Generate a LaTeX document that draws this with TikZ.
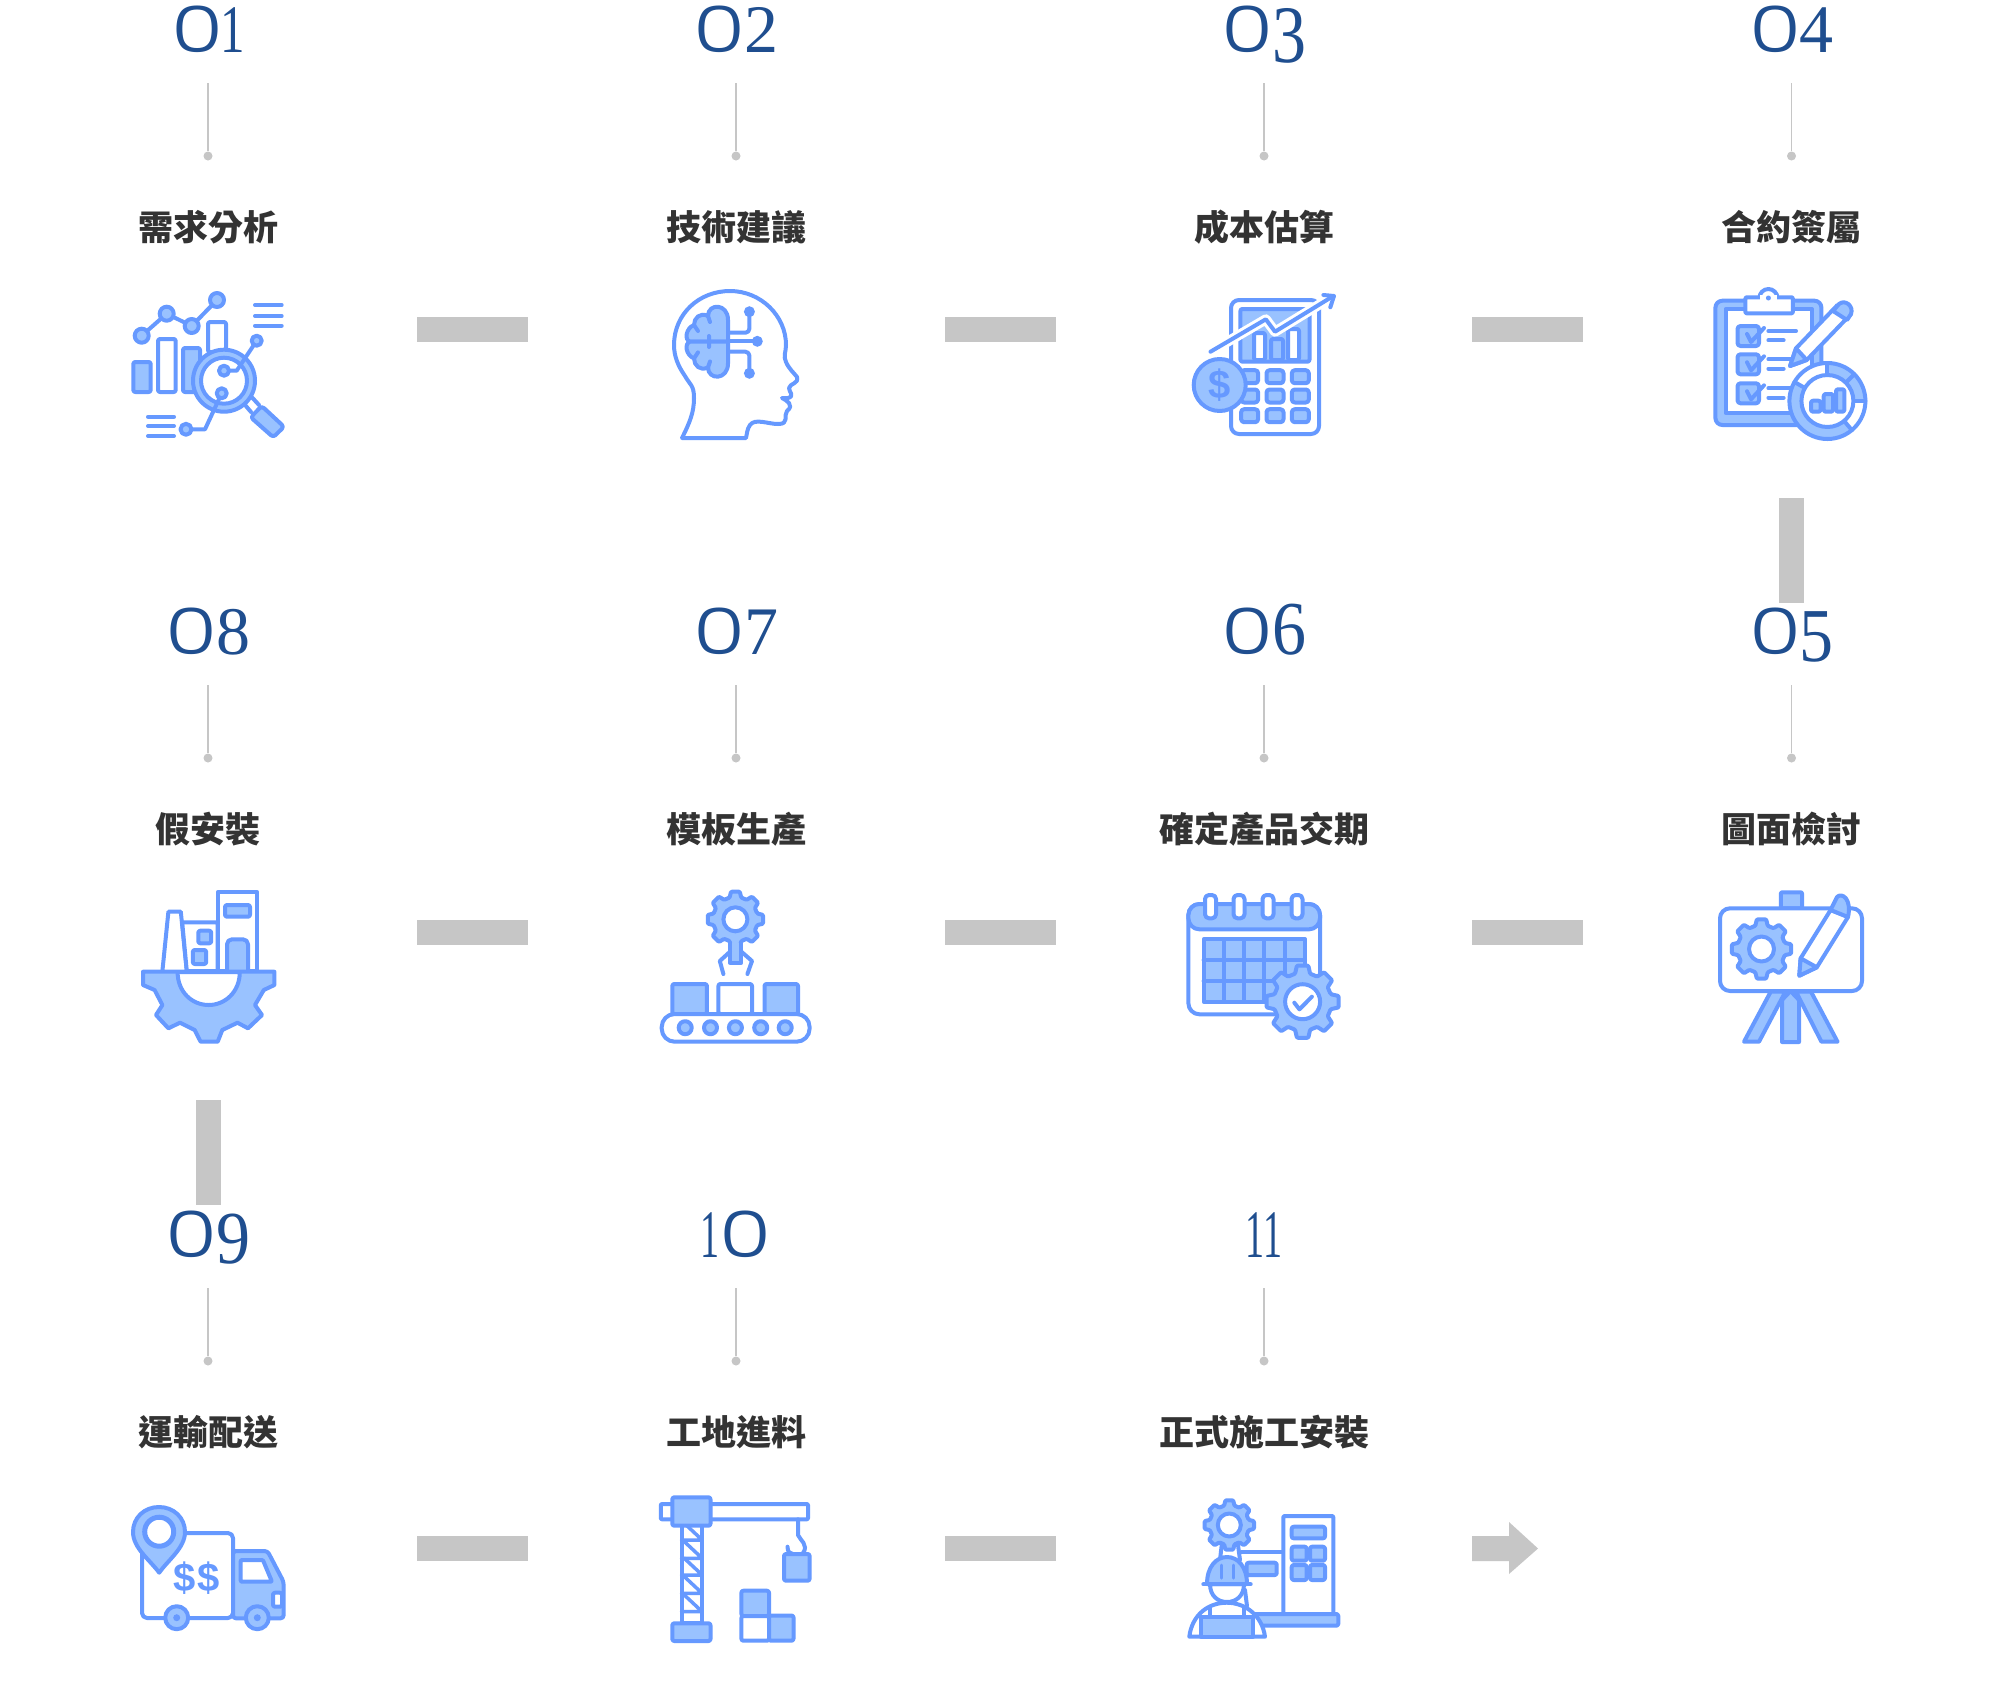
\documentclass[tikz,border=0pt]{standalone}
\usepackage{fontspec}
\usepackage{graphicx}
\newfontfamily\cjk{Noto Sans CJK TC}
\newfontfamily\serifnum{Liberation Serif}
\newfontfamily\zerofont{Poppins Light}
\newfontfamily\iconsans{Liberation Sans}
\definecolor{icb}{HTML}{6699FF}
\definecolor{lb}{HTML}{99C2FF}
\definecolor{gr}{HTML}{C6C6C6}
\definecolor{navy}{HTML}{1F4E8F}
\definecolor{ink}{HTML}{333333}
\newcommand\zz{{\zerofont\fontsize{64}{64}\selectfont\scalebox{1.32}[1]{0}}}
\newcommand\oo{\scalebox{0.72}[1]{1}}
\newcommand\oon{\scalebox{0.56}[1]{1}}
\newcommand\gearic[6]{% x,y,Ro,Ri,hole,holewidth
\begin{scope}[shift={(#1,#2)}]
\draw[ic,fill=lb,rounded corners=1pt] ({-15}:#4)
 \foreach \k in {0,...,7}{ -- ({\k*45-15}:#4) -- ({\k*45-9}:#3) -- ({\k*45+9}:#3) -- ({\k*45+15}:#4) } -- cycle;
\draw[ic,fill=white,line width=#6pt] (0,0) circle[radius=#5];
\end{scope}}
\newcommand\rbox[5]{\draw[ic,fill=#5,rounded corners=2pt] (#1,#2) rectangle (#3,#4);}
\newcommand\stepitem[5]{%
 \node[numtxt] (n#1) at (#2,52+#3) {#4};
 \coordinate (t#1) at (#2,83+#3);
 \node[dotn] (d#1) at (#2,156+#3) {};
 \draw[stemline] (t#1) -- (d#1);
 \node[labeltxt] (l#1) at (#2,227+#3) {#5};
}
\tikzset{
 ic/.style={draw=icb,line width=4pt,line join=round,line cap=round},
 numtxt/.style={anchor=base,inner sep=0pt,text=navy,font=\serifnum\fontsize{68}{68}\selectfont},
 labeltxt/.style={inner sep=0pt,text=ink,font=\cjk\bfseries\fontsize{35}{35}\selectfont},
 dotn/.style={circle,fill=gr,inner sep=0pt,minimum size=9pt},
 stemline/.style={draw=gr,line width=1.6pt},
 hbar/.style={fill=gr,inner sep=0pt,minimum width=111pt,minimum height=25pt},
 vbar/.style={fill=gr,inner sep=0pt,minimum width=25pt,minimum height=105pt},
}
\begin{document}
\begin{tikzpicture}[x=1pt,y=-1pt]
\useasboundingbox (0,0) rectangle (2000,1703);
\fill[white] (0,0) rectangle (2000,1703);

% steps
\stepitem{a}{208}{0}{\zz\kern-3pt\oo}{需求分析}
\stepitem{b}{736}{0}{\zz\kern-2pt 2}{技術建議}
\stepitem{c}{1264}{0}{\zz\kern-2pt\raisebox{-10pt}{\scalebox{1}[1.2]{3}}}{成本估算}
\stepitem{d}{1791.5}{0}{\zz\kern-2pt 4}{合約簽屬}
\stepitem{h}{208}{602}{\zz\kern-2pt 8}{假安裝}
\stepitem{g}{736}{602}{\zz\kern-2pt 7}{模板生產}
\stepitem{f}{1264}{602}{\zz\kern-2pt\scalebox{1}[1.12]{6}}{確定產品交期}
\stepitem{e}{1791.5}{602}{\zz\kern-2pt\raisebox{-7pt}{\scalebox{1}[1.12]{5}}}{圖面檢討}
\stepitem{i}{208}{1205}{\zz\kern-2pt\raisebox{-6pt}{\scalebox{1}[1.1]{9}}}{運輸配送}
\stepitem{j}{736}{1205}{\oon\zz}{工地進料}
\stepitem{k}{1264}{1205}{\oon\kern-2pt\oon}{正式施工安裝}

% bars
\node[hbar] (bab) at (472.5,329.5) {};
\node[hbar] (bbc) at (1000,329.5) {};
\node[hbar] (bcd) at (1527,329.5) {};
\node[vbar] (bde) at (1791.5,550) {};
\node[hbar] (bgh) at (472.5,932) {};
\node[hbar] (bfg) at (1000,932) {};
\node[hbar] (bef) at (1527,932) {};
\node[vbar] (bhi) at (208.5,1152.5) {};
\node[hbar] (bij) at (472.5,1548.5) {};
\node[hbar] (bjk) at (1000,1548.5) {};
\fill[gr] (1472,1536) -- (1509,1536) -- (1509,1522) -- (1538,1548.5) -- (1509,1574) -- (1509,1561) -- (1472,1561) -- cycle;

% ---- icon 1 analysis
\draw[ic] (141.7,335.7) -- (166.7,313.7) -- (191.7,326) -- (217,300);
\foreach \p in {(141.7,335.7),(166.7,313.7),(191.7,326),(217,300)} \draw[ic,fill=lb] \p circle[radius=7];
\rbox{133.3}{362}{150.7}{392}{lb}
\rbox{158}{339}{175.7}{392}{white}
\rbox{183}{348}{200}{392}{lb}
\rbox{208}{322}{226}{352}{white}
\draw[ic] (255,305) -- (281.7,305) (255,316) -- (281.7,316) (255,325.7) -- (281.7,325.7);
\draw[ic] (148,416.7) -- (174,416.7) (148,426) -- (174,426) (148,436) -- (174,436);
\draw[ic] (240,399) -- (251,412) (248,393) -- (259,405);
\draw[ic,fill=lb,rounded corners=3pt] (261.7,406) -- (284,426.7) -- (273.3,437.3) -- (250.7,417.3) -- cycle;
\draw[ic,fill=lb] (224,380.7) circle[radius=31];
\draw[ic,fill=white] (224,380.7) circle[radius=23];
\draw[ic] (224,370.7) -- (236.7,370.7) -- (256.7,340.7);
\draw[ic] (221.7,393.3) -- (205,429.3) -- (186,429.3);
\foreach \p/\r in {(224,370.7)/5,(256.7,340.7)/5,(221.7,393.3)/5,(186,429.3)/5.5} \draw[ic,fill=lb] \p circle[radius=\r];

% ---- icon 2 head
\draw[ic,fill=white] (682,438) .. controls (690,422) and (694,412) .. (694,398) .. controls (694,385) and (690,385) .. (685,376) .. controls (678,366) and (674,356) .. (674,345) .. controls (674,314) and (699,291) .. (730,291) .. controls (761,291) and (786,316) .. (786,345) .. controls (786,352) and (783,356) .. (786,362) .. controls (789,369) and (794,373) .. (797,377) .. controls (799,384) and (790,383) .. (789,388) .. controls (789,392) and (795,396) .. (788,398) -- (782,398) .. controls (786,400) and (795,405) .. (787,411) .. controls (783,416) and (790,424) .. (778,424) .. controls (768,424) and (755,418) .. (750,425) .. controls (747,429) and (747,434) .. (746,438) -- cycle;
\draw[ic,fill=lb] (728,341.7) -- (728,320) .. controls (728,303) and (708,303) .. (708,316) .. controls (700,312) and (694,318) .. (694,325) .. controls (686,328) and (684,340) .. (690,341.7) -- cycle;
\draw[ic,fill=lb] (728,341.7) -- (728,363.4) .. controls (728,380.4) and (708,380.4) .. (708,367.4) .. controls (700,371.4) and (694,365.4) .. (694,358.4) .. controls (686,355.4) and (684,343.4) .. (690,341.7) -- cycle;
\draw[ic] (708,316) -- (710,322) (694,325) -- (698,331) (708,367.4) -- (710,361.4) (694,358.4) -- (698,352.4) (709,336) -- (709,347);
\draw[ic,rounded corners=4pt] (728,332.7) -- (749.4,332.7) -- (749.4,311.7);
\draw[ic] (728,341.3) -- (757.3,341.3);
\draw[ic,rounded corners=4pt] (728,351.7) -- (749.4,351.7) -- (749.4,373.3);
\foreach \p in {(749.4,311.7),(757.3,341.3),(749.4,373.3)} \fill[icb] \p circle[radius=5.5];

% ---- icon 3 calculator
\begin{scope}[xshift=-1pt]
\draw[ic,fill=white,rounded corners=8pt] (1232,300) rectangle (1320,434);
\draw[ic,fill=lb,rounded corners=2pt] (1241.4,309) rectangle (1310.5,361.7);
\rbox{1255}{333}{1266}{360}{white}
\rbox{1272}{339}{1284}{360}{lb}
\rbox{1289}{329}{1300}{360}{white}
\foreach \yy in {376.7,396,415.7} \foreach \xx in {1250.6,1276,1301.3}
 \draw[ic,fill=lb,rounded corners=3pt] (\xx-8.5,\yy-6.5) rectangle (\xx+8.5,\yy+6.5);
\draw[white,line width=10pt,line join=round] (1211.5,351.7) -- (1266.8,319.3) -- (1276,331.7) -- (1332.2,297.3);
\draw[ic] (1211.5,351.7) -- (1266.8,319.3) -- (1276,331.7) -- (1332.2,297.3);
\draw[ic] (1324.4,295) -- (1335,296) -- (1331.3,307.3);
\draw[ic,fill=lb] (1220.7,385) circle[radius=26];
\node[inner sep=0pt,text=icb,font=\iconsans\bfseries\fontsize{40}{40}\selectfont] (coin) at (1220.7,385) {\$};
\end{scope}

% ---- icon 4 clipboard
\begin{scope}[xshift=-3pt]
\draw[ic,fill=lb,rounded corners=7pt] (1718.4,300.7) rectangle (1824.4,425);
\draw[ic,fill=white] (1728.5,309) rectangle (1815,413);
\draw[ic,fill=white] (1771.4,298) circle[radius=9];
\fill[icb] (1771.4,298) circle[radius=2.5];
\draw[ic,fill=white,rounded corners=1pt] (1748.4,297.3) rectangle (1795.8,313.3);
\fill[white] (1763,295) rectangle (1780,299.5);
\fill[icb] (1771.4,298) circle[radius=2.5];
\foreach \yy in {326,354.3,383.3} {
 \draw[ic,fill=lb,rounded corners=3pt] (1740.5,\yy) rectangle (1762,\yy+20);
 \draw[ic] (1750,\yy+8) -- (1754,\yy+16) -- (1767,\yy+2);
 \draw[ic] (1771.4,\yy+5) -- (1799,\yy+5);
 \draw[ic] (1771.4,\yy+14.3) -- (1786.6,\yy+14.3);
}
\draw[ic,fill=white] (1799,348.3) -- (1840.5,305) -- (1854,314) -- (1809.7,360) -- (1793,366) -- cycle;
\draw[ic,fill=lb] (1836,311) -- (1842,304) .. controls (1848,299) and (1857,306) .. (1854,314) -- (1850,320) -- cycle;
\draw[ic,fill=lb] (1799,348.3) -- (1809.7,360) -- (1793,366) -- cycle;
\begin{scope}[shift={(1830.4,401)}]
\fill[lb] (0,0) circle[radius=38];
\fill[white] (0:26) -- (0:37) -- (17:37) -- (34:37) -- (50:37) -- (50:26) -- cycle;
\fill[white] (210:26) -- (210:37) -- (230:37) -- (250:37) -- (270:37) -- (270:26) -- cycle;
\foreach \a in {270,315,0,50,210} \draw[ic] (\a:26) -- (\a:38);
\draw[ic] (0,0) circle[radius=38];
\draw[ic,fill=white] (0,0) circle[radius=26];
\end{scope}
\rbox{1814}{400.7}{1823.5}{411.7}{lb}
\rbox{1826.7}{394}{1836}{411.7}{lb}
\rbox{1839}{389.3}{1847.4}{411.7}{lb}
\end{scope}

% ---- icon 8 factory
\draw[ic,fill=white] (162.4,971) -- (168.4,911.7) -- (180.8,911.7) -- (186.8,971);
\draw[ic,fill=white] (182.2,922.3) -- (217.7,922.3) -- (217.7,971) -- (186.8,971) -- cycle;
\draw[ic,fill=white] (217.7,892.3) rectangle (257.3,971);
\rbox{198.3}{930.7}{211.2}{943.3}{lb}
\rbox{192.8}{950}{206.2}{964}{lb}
\rbox{225}{905}{250}{916.7}{lb}
\draw[ic,fill=lb,rounded corners=5pt] (227,971) -- (227,939.3) -- (248,939.3) -- (248,971);
\draw[ic,fill=lb] (143,971.7) -- (143,985) -- (154.6,990) -- (162.4,1005) -- (156,1015) -- (168.4,1028.3) -- (180,1022.7) -- (194.7,1030) -- (200.6,1041.7) -- (217.7,1041.7) -- (222.3,1030) -- (237.5,1022.7) -- (248,1028.3) -- (262,1015) -- (255,1005) -- (263.8,990) -- (274.4,985) -- (274.4,971.7) -- cycle;
\draw[ic,fill=white] (177.6,972) .. controls (177.6,992) and (192,1005) .. (208.7,1005) .. controls (225,1005) and (239.8,992) .. (239.8,972) -- cycle;

% ---- icon 7 conveyor
\begin{scope}[xshift=-3pt]
\gearic{738.4}{919.3}{28}{22.5}{12}{4}
\draw[ic,fill=lb] (733,943) -- (733,962.7) -- (744.4,962.7) -- (744.4,943);
\draw[ic] (733,951.7) -- (722.8,961) -- (726.4,974);
\draw[ic] (744.4,951.7) -- (755,961) -- (750.4,974);
\rbox{675.3}{984}{709.9}{1014}{lb}
\rbox{721.4}{984}{755}{1014}{white}
\rbox{767.5}{984}{801}{1014}{lb}
\draw[ic,fill=white,rounded corners=13pt] (664.7,1014) rectangle (812.6,1041.7);
\foreach \xx in {688.2,713.5,738.4,763.7,788.2} \draw[ic,fill=lb] (\xx,1027.7) circle[radius=6.5];
\end{scope}

% ---- icon 6 calendar
\begin{scope}[xshift=-1pt]
\draw[ic,fill=white,rounded corners=11pt] (1189.4,904) rectangle (1321,1014.3);
\draw[ic,fill=lb,rounded corners=11pt] (1189.4,929.3) -- (1189.4,904) -- (1321,904) -- (1321,929.3) -- cycle;
\foreach \xx in {1211.5,1240,1269,1298} \draw[ic,fill=white,rounded corners=4pt] (\xx-5.5,895) rectangle (\xx+5.5,918.3);
\draw[ic,fill=lb] (1204.6,939.3) rectangle (1306,1001.7);
\draw[ic] (1224.9,939.3) -- (1224.9,1001.7) (1245.2,939.3) -- (1245.2,1001.7) (1265.4,939.3) -- (1265.4,1001.7) (1285.7,939.3) -- (1285.7,1001.7) (1204.6,960.1) -- (1306,960.1) (1204.6,980.9) -- (1306,980.9);
\gearic{1303.6}{1001.7}{36.5}{29}{17.5}{4}
\draw[ic] (1295.3,1002.7) -- (1300.4,1009.3) -- (1312.9,996.7);
\end{scope}

% ---- icon 5 easel
\begin{scope}[xshift=-3pt]
\draw[ic,fill=lb,rounded corners=1pt] (1783.8,892.3) rectangle (1805,908.3);
\draw[ic,fill=white,rounded corners=10pt] (1723,908.3) rectangle (1865,991);
\gearic{1764.5}{949}{30}{24}{12.5}{4}
\draw[ic,fill=white] (1833.6,910) -- (1851,917) -- (1819.8,967.3) -- (1802.3,975.7) -- (1803.6,958.3) -- cycle;
\draw[ic,fill=lb] (1803.6,958.3) -- (1819.8,967.3) -- (1802.3,975.7) -- cycle;
\draw[ic,fill=lb] (1833.6,910) -- (1840,897) .. controls (1845,892) and (1855,899) .. (1851,917) -- cycle;
\draw[ic,fill=lb] (1773.7,991.7) -- (1788.4,991.7) -- (1762,1041.7) -- (1747,1041.7) -- cycle;
\draw[ic,fill=lb] (1799,991.7) -- (1814,991.7) -- (1840.5,1041.7) -- (1824.4,1041.7) -- cycle;
\draw[ic,fill=lb] (1785,1042) -- (1785,1000) -- (1793.5,991) -- (1802,1000) -- (1802,1042) -- cycle;
\end{scope}

% ---- icon 9 truck
\draw[ic,fill=white,rounded corners=5pt] (142,1533) rectangle (233,1618);
\draw[ic,fill=lb,rounded corners=3pt] (233,1551) -- (267.5,1551) -- (283.6,1581.7) -- (283.6,1618.3) -- (233,1618.3) -- cycle;
\draw[ic,fill=white,rounded corners=1pt] (240.7,1560) -- (262.9,1560) -- (272,1581.7) -- (240.7,1581.7) -- cycle;
\rbox{273}{1592.7}{282}{1606.7}{white}
\foreach \xx in {176.7,257.3} { \draw[ic,fill=lb] (\xx,1617.7) circle[radius=11.5]; \fill[icb] (\xx,1617.7) circle[radius=3.5]; }
\node[inner sep=0pt,text=icb,font=\iconsans\bfseries\fontsize{40}{40}\selectfont] (cash) at (196.5,1578) {\$\kern2pt\$};
\draw[ic,fill=lb] (159.2,1572.7) .. controls (150,1560) and (133,1548) .. (133,1532) .. controls (133,1518) and (144,1507) .. (159,1507) .. controls (174,1507) and (185,1518) .. (185,1532) .. controls (185,1548) and (168,1560) .. (159.2,1572.7) -- cycle;
\draw[ic,fill=white,line width=5pt] (159.2,1531.7) circle[radius=14.5];

% ---- icon 10 crane
\begin{scope}[xshift=-3pt]
\draw[ic,fill=white,rounded corners=1pt] (663.8,1504) rectangle (680,1519.3);
\draw[ic,fill=white,rounded corners=1pt] (710,1504) rectangle (811,1519.3);
\draw[ic,fill=white] (684.5,1525) rectangle (705.2,1623.3);
\foreach \yy in {1540,1558.3,1575,1593.3,1611.7} \draw[ic,line width=3.5pt] (684.5,\yy) -- (705.2,\yy) -- (687,\yy-17);
\draw[ic,fill=lb,rounded corners=2pt] (675.3,1497.3) rectangle (713.5,1525.7);
\draw[ic,fill=lb,rounded corners=2pt] (675.3,1623.3) rectangle (713.5,1641);
\draw[ic] (801,1519.3) -- (801,1535) .. controls (803,1540) and (812,1545) .. (806,1553);
\draw[ic] (790.5,1546.7) .. controls (790.5,1552) and (793,1554) .. (796,1554);
\rbox{787}{1554}{812.6}{1580.7}{lb}
\rbox{744.4}{1590.7}{772}{1616}{lb}
\rbox{744.4}{1616}{772}{1640.7}{white}
\rbox{772}{1615.5}{796.5}{1640.7}{lb}
\end{scope}

% ---- icon 11 worker
\draw[ic] (1241.7,1552.3) -- (1283.3,1552.3);
\draw[ic,fill=white,rounded corners=1pt] (1283.3,1516) rectangle (1333.3,1615);
\rbox{1291.7}{1526.7}{1325}{1538.3}{lb}
\rbox{1291.7}{1546.7}{1306.7}{1560.7}{lb}
\rbox{1310}{1546.7}{1325}{1560.7}{lb}
\rbox{1291.7}{1565}{1306.7}{1580}{lb}
\rbox{1310}{1565}{1325}{1580}{lb}
\rbox{1246.7}{1562.7}{1276.7}{1575}{lb}
\rbox{1253.3}{1614}{1338.3}{1625.7}{lb}
\gearic{1229.3}{1525}{25}{20}{11.5}{4}
\draw[ic] (1221.7,1545) -- (1220,1560) (1238,1545) -- (1240,1560) (1245,1590) -- (1247,1606);
\draw[ic,fill=white] (1189.3,1636.7) .. controls (1192,1615) and (1208,1602.7) .. (1226.7,1602.7) .. controls (1245,1602.7) and (1262,1615) .. (1265,1636.7) -- cycle;
\draw[ic,fill=lb] (1201,1636.7) -- (1201,1617) -- (1210,1617) -- (1244,1617) -- (1253,1617) -- (1253,1636.7) -- cycle;
\draw[ic,fill=white] (1210,1617) -- (1210,1608) (1244,1608) -- (1244,1617);
\draw[ic,fill=white] (1210,1584) .. controls (1210,1596) and (1218,1602) .. (1227,1602) .. controls (1236,1602) and (1244,1596) .. (1244,1584) -- cycle;
\draw[ic,fill=lb] (1207,1584) .. controls (1207,1567) and (1216,1557) .. (1227,1557) .. controls (1238,1557) and (1247,1567) .. (1247,1584) -- cycle;
\draw[ic] (1203.3,1584.3) -- (1250.7,1584.3);
\draw[ic,line width=3pt] (1221,1578) -- (1221,1565) (1233,1578) -- (1233,1565);
\end{tikzpicture}
\end{document}
